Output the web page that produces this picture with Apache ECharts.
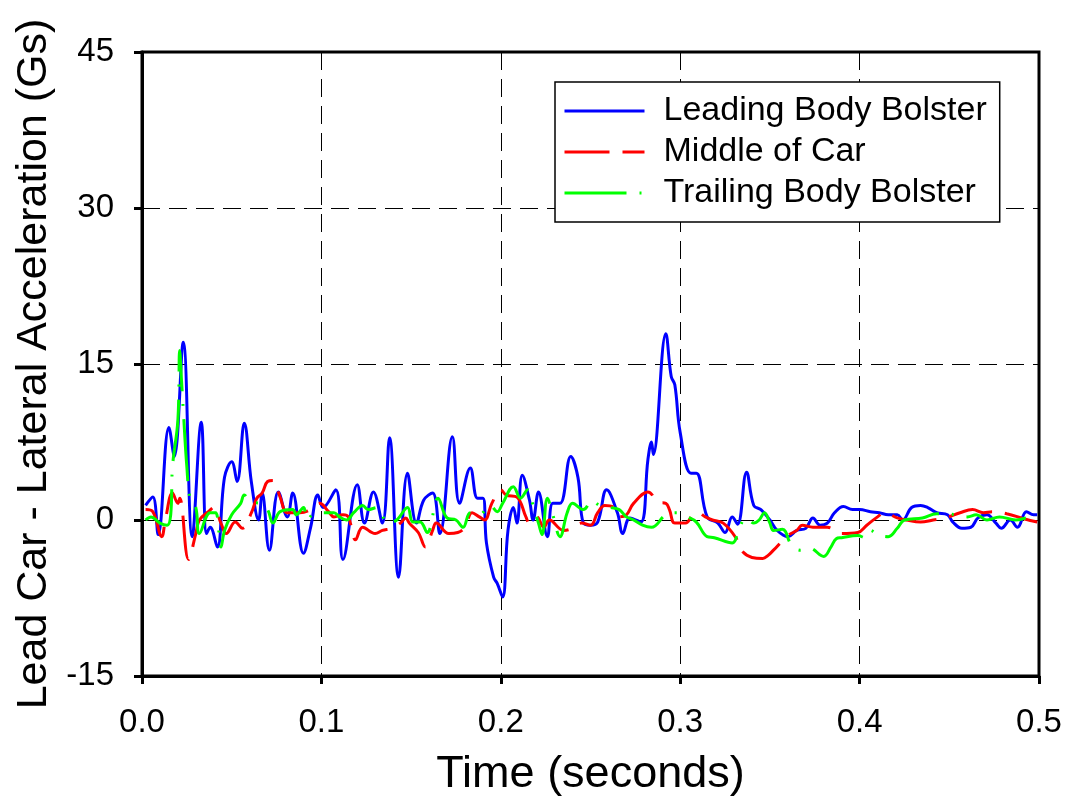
<!DOCTYPE html>
<html>
<head>
<meta charset="utf-8">
<script src="https://cdn.jsdelivr.net/npm/echarts@6/dist/echarts.min.js"></script>
<style>
  html, body { margin: 0; padding: 0; background: #fff; }
  #main { width: 1067px; height: 806px; }
</style>
</head>
<body>
<div id="main"></div>
<script>
// time in seconds, acceleration in Gs
const leadT = [0.002, 0.006, 0.009, 0.015, 0.018, 0.023, 0.028, 0.033, 0.036, 0.038, 0.042, 0.046, 0.050, 0.053,
  0.057, 0.061, 0.065, 0.067, 0.071, 0.076, 0.081, 0.084, 0.090, 0.094, 0.098, 0.101, 0.108, 0.112, 0.120,
  0.124, 0.129, 0.134, 0.138, 0.143, 0.148, 0.153, 0.157, 0.162, 0.166, 0.173, 0.177, 0.183, 0.187, 0.190,
  0.192, 0.196, 0.198, 0.201, 0.204, 0.207, 0.209, 0.212, 0.216, 0.218, 0.221, 0.226, 0.229, 0.233, 0.239,
  0.243, 0.246, 0.250, 0.254, 0.259, 0.265, 0.268, 0.272, 0.278, 0.282, 0.284, 0.285, 0.292, 0.295, 0.297,
  0.300, 0.306, 0.309, 0.315, 0.321, 0.325, 0.329, 0.332, 0.337, 0.341, 0.345, 0.350, 0.354, 0.360, 0.365,
  0.370, 0.374, 0.378, 0.382, 0.386, 0.391, 0.396, 0.400, 0.406, 0.411, 0.416, 0.421, 0.424, 0.429, 0.434,
  0.438, 0.443, 0.449, 0.452, 0.457, 0.462, 0.466, 0.471, 0.476, 0.479, 0.484, 0.488, 0.493, 0.497, 0.499]
const leadG = [1.4, 2.2, -1.4, 8.9, 6.1, 17.1, -1.6, 9.4, -1.3, -0.7, -2.6, 4.1, 5.6, 3.7,
  9.3, 3.6, 0, 2.6, -2.9, 2.7, 0.3, 2.6, -3.2, -0.7, 2.4, 1.2, 2.9, -3.8, 3.4,
  -0.3, 2.7, -0.3, 7.9, -5.5, 4.5, -0.3, 1.9, 2.6, -1.3, 8.0, 1.6, 5.0, 2.1, 2.1,
  -2.2, -5.5, -6.1, -7.4, -1.0, 1.2, -0.3, 4.3, 1.9, 0, 2.7, -1.6, 1.6, 1.6, 6.1,
  4.1, -0.3, -0.5, -0.2, 2.9, 0.7, -1.3, 0.2, -0.2, 5.8, 7.5, 6.3, 17.9, 13.8, 13.0,
  8.4, 4.5, 4.5, 0.3, -0.3, -1.2, 0.3, -0.4, 4.6, 1.4, 1.0, 0, -1.0, -1.6, -1.0,
  -0.8, 0.2, -0.5, -0.3, 0.7, 1.3, 1.0, 1.0, 0.8, 0.7, 0.5, 0.5, 0, 1.2, 1.4,
  1.2, 0.7, 0.5, -0.2, -0.8, -0.7, 0.2, 0.5, -0.3, -0.8, 0, -0.7, 0.8, 0.5, 0.5]

const midT = [0.002, 0.006, 0.011, 0.013, 0.017, 0.020, 0.021, 0.026, 0.030, 0.032, 0.037, 0.040, 0.044, 0.047,
  0.052, 0.056, 0.061, 0.064, 0.067, 0.070, 0.073, 0.077, 0.081, 0.088, 0.094, 0.099, 0.104, 0.107, 0.112,
  0.115, 0.119, 0.123, 0.130, 0.134, 0.139, 0.144, 0.147, 0.149, 0.154, 0.158, 0.162, 0.164, 0.171, 0.176,
  0.180, 0.184, 0.188, 0.191, 0.195, 0.200, 0.203, 0.209, 0.214, 0.216, 0.220, 0.224, 0.227, 0.235, 0.240,
  0.245, 0.250, 0.254, 0.258, 0.263, 0.266, 0.270, 0.274, 0.282, 0.288, 0.292, 0.294, 0.297, 0.303, 0.307,
  0.310, 0.314, 0.318, 0.324, 0.331, 0.334, 0.340, 0.346, 0.349, 0.352, 0.360, 0.365, 0.368, 0.374, 0.382,
  0.390, 0.399, 0.404, 0.410, 0.414, 0.421, 0.426, 0.434, 0.441, 0.448, 0.456, 0.463, 0.469, 0.474, 0.482,
  0.492, 0.499]
const midG = [1.0, 0.8, -1.6, 0, 2.6, 1.6, 2.1, -3.8, -1.3, 0, 0.8, 1.2, -0.3, -1.3,
  -0.2, -0.8, 0.7, 2.1, 2.6, 3.7, 3.8, 2.2, 0.7, 0.7, 1.0, 1.6, 0.8, 0.3, 0.5,
  0.3, -1.9, -0.7, -1.3, -1.0, -0.8, -0.3, 0.2, -0.3, -1.2, -2.6, -1.0, -0.3, -1.3, -1.2,
  -0.7, 0.7, 0.3, 0, 1.6, 2.9, 2.4, 2.2, 0.3, -0.3, 0.3, -0.7, 0, -1.0, -0.8,
  -0.3, -0.5, 0.7, 1.4, 1.2, 0.3, 0.5, 1.6, 2.7, 1.7, 1.6, 1.0, -0.3, -0.3, 0.5,
  0.7, 0.3, 0, -0.3, -1.7, -2.9, -3.6, -3.7, -3.4, -2.9, -1.5, -1.0, -0.5, -0.7, -0.7,
  -1.3, -1.2, -0.5, 0.3, 0.7, 0.2, 0, -0.2, 0, 0.2, 0.7, 1.0, 0.7, 0.8, 0.6,
  0.1, -0.2]

const trailT = [0.002, 0.005, 0.010, 0.014, 0.016, 0.017, 0.020, 0.021, 0.022, 0.023, 0.025, 0.027, 0.030, 0.032,
  0.038, 0.041, 0.044, 0.046, 0.050, 0.055, 0.057, 0.061, 0.066, 0.070, 0.073, 0.077, 0.084, 0.086, 0.090,
  0.092, 0.095, 0.099, 0.107, 0.110, 0.114, 0.118, 0.123, 0.126, 0.131, 0.137, 0.142, 0.148, 0.151, 0.155,
  0.159, 0.165, 0.170, 0.175, 0.179, 0.183, 0.188, 0.194, 0.198, 0.201, 0.207, 0.211, 0.215, 0.218, 0.221,
  0.223, 0.226, 0.229, 0.233, 0.237, 0.240, 0.246, 0.251, 0.255, 0.261, 0.266, 0.270, 0.274, 0.279, 0.284,
  0.292, 0.298, 0.304, 0.309, 0.315, 0.319, 0.329, 0.333, 0.337, 0.341, 0.344, 0.347, 0.350, 0.352, 0.357,
  0.362, 0.367, 0.372, 0.380, 0.384, 0.387, 0.390, 0.399, 0.403, 0.406, 0.410, 0.416, 0.421, 0.425, 0.435,
  0.443, 0.454, 0.460, 0.465, 0.471, 0.478, 0.487, 0.493, 0.499]
const trailG = [0, 0.3, -0.3, -0.5, 0.5, 5.1, 9.6, 16.3, 13.5, 10.6, 5.1, 1.9, 1.2, -1.3,
  0.7, 0.7, -2.6, -1.0, 0.5, 1.6, 2.4, 1.7, 1.6, 1.0, -0.3, 0.8, 1.0, 0.5, 1.2,
  0, 0.5, 0.7, 0.7, 0.3, 0, 0.7, 1.4, 1.0, 1.2, -0.3, 0, 1.2, -0.2, -0.2,
  -1.2, 2.1, 0.2, 0, -0.7, 0.7, 0.5, 1.4, 0.8, 1.6, 3.2, 2.1, 2.9, 1.4, -0.3,
  -1.4, 2.1, 0.5, -1.6, 0.7, 1.6, 1.0, 1.9, 1.4, 1.2, 1.0, 0.3, 0, -0.5, -0.7,
  0.5, 0.7, 0.3, -0.2, -1.6, -1.7, -2.2, -0.7, 0.2, -0.3, 0, 0.7, -0.3, -1.0, -0.9,
  -2.4, -2.9, -2.7, -3.5, -2.6, -1.8, -1.7, -1.5, -1.7, -1.0, -1.4, -1.6, -0.8, 0, 0.2,
  0.6, 0.5, 0.3, 0.5, 0, 0.3, 0, 0.2, 0.3]

const seriesNames = ['Leading Body Bolster', 'Middle of Car', 'Trailing Body Bolster']
const seriesColors = ['#0000ff', '#ff0000', '#00ff00']
const xTicks = [0, 0.5, 0.1]
const yTicks = [-15, 45, 15]

const font = 'Liberation Sans, Arial, sans-serif'

function pairs (ts, vs) {
  return ts.map((t, i) => [t, vs[i]])
}

const chart = echarts.init(document.getElementById('main'))

const option = {
  animation: false,
  backgroundColor: '#fff',
  grid: {
    left: 142,
    right: 28,
    top: 52,
    bottom: 130,
    show: true,
    borderColor: '#000',
    borderWidth: 3
  },
  legend: {
    left: 555,
    top: 82,
    orient: 'vertical',
    backgroundColor: '#fff',
    borderColor: '#000',
    borderWidth: 1.5,
    padding: [12, 13, 12, 8],
    itemWidth: 80,
    itemHeight: 14,
    itemGap: 7,
    itemStyle: { opacity: 0 },
    lineStyle: { width: 3 },
    textStyle: { fontSize: 34, color: '#000', fontFamily: font, padding: [0, 0, 0, 14] },
    data: seriesNames
  },
  xAxis: {
    type: 'value',
    min: xTicks[0],
    max: xTicks[1],
    interval: xTicks[2],
    name: 'Time (seconds)',
    nameLocation: 'middle',
    nameGap: 76,
    nameTextStyle: { fontSize: 45, color: '#000', fontFamily: font },
    axisLine: { show: true, onZero: false, lineStyle: { color: '#000', width: 3 } },
    axisTick: { show: true, length: 8, lineStyle: { color: '#000', width: 3 } },
    axisLabel: { fontSize: 33, color: '#000', fontFamily: font, margin: 30, formatter: v => v.toFixed(1) },
    splitLine: { show: true, lineStyle: { color: '#000', width: 1, type: [18, 9] } }
  },
  yAxis: {
    type: 'value',
    min: yTicks[0],
    max: yTicks[1],
    interval: yTicks[2],
    name: 'Lead Car - Lateral Acceleration (Gs)',
    nameLocation: 'middle',
    nameGap: 80,
    nameTextStyle: { fontSize: 43, color: '#000', fontFamily: font },
    axisLine: { show: true, onZero: false, lineStyle: { color: '#000', width: 3 } },
    axisTick: { show: true, length: 8, lineStyle: { color: '#000', width: 3 } },
    axisLabel: { fontSize: 33, color: '#000', fontFamily: font, margin: 28 },
    splitLine: { show: true, lineStyle: { color: '#000', width: 1, type: [18, 9] } }
  },
  series: [
    {
      name: seriesNames[0],
      type: 'line',
      data: pairs(leadT, leadG),
      symbol: 'none',
      smooth: 0.4,
      z: 3,
      lineStyle: { color: seriesColors[0], width: 3 },
      itemStyle: { color: seriesColors[0] }
    },
    {
      name: seriesNames[1],
      type: 'line',
      data: pairs(midT, midG),
      symbol: 'none',
      smooth: 0.4,
      z: 4,
      lineStyle: { color: seriesColors[1], width: 3, type: [45, 13] },
      itemStyle: { color: seriesColors[1] }
    },
    {
      name: seriesNames[2],
      type: 'line',
      data: pairs(trailT, trailG),
      symbol: 'none',
      smooth: 0.4,
      z: 5,
      lineStyle: { color: seriesColors[2], width: 3, type: [62, 13, 2, 13] },
      itemStyle: { color: seriesColors[2] }
    }
  ]
}

option && chart.setOption(option)
</script>
</body>
</html>
